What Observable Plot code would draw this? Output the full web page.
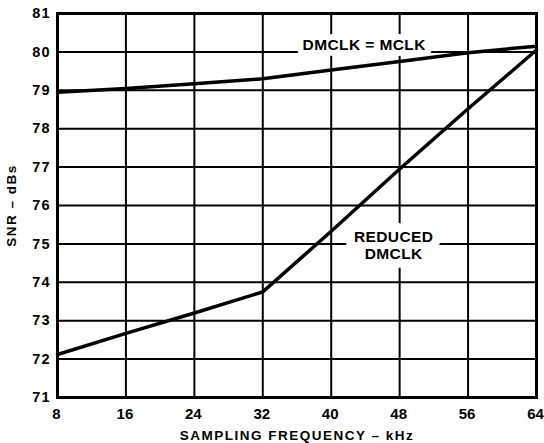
<!DOCTYPE html>
<html><head><meta charset="utf-8">
<script src="https://cdn.jsdelivr.net/npm/d3@7"></script>
<script src="https://cdn.jsdelivr.net/npm/@observablehq/plot@0.6"></script>
<style>
body{margin:0;background:#fff;}
#chart svg{font-family:"Liberation Sans",Arial,sans-serif;font-weight:bold;}
#chart g[aria-label="y-axis tick label"] text{letter-spacing:1px;}
#chart g[aria-label="x-axis label"] text{letter-spacing:1.5px;}
#chart g[aria-label="y-axis label"] text{letter-spacing:1.5px;}
#chart g.anno text{letter-spacing:0.4px;}
</style></head><body><div id="chart"></div>
<script>
const freqs = [8, 16, 24, 32, 40, 48, 56, 64];
const snrEqual = [78.95, 79.05, 79.17, 79.3, 79.53, 79.75, 79.98, 80.15];
const snrReduced = [72.12, 72.67, 73.2, 73.75, 75.33, 76.95, 78.52, 80.05];
const xTicks = [8, 16, 24, 32, 40, 48, 56, 64];
const yTicks = [71, 72, 73, 74, 75, 76, 77, 78, 79, 80, 81];
const labelText = ["DMCLK = MCLK", "REDUCED\nDMCLK"];
const labelX = [43.85, 47.3];
const labelY = [80.2, 74.98];
const labelHalo = [12, 18];

const rows = [];
freqs.forEach((f, i) => {
  rows.push({f, snr: snrEqual[i], s: "equal"});
  rows.push({f, snr: snrReduced[i], s: "reduced"});
});
const labels = labelText.map((t, i) => ({t, x: labelX[i], y: labelY[i], h: labelHalo[i]}));

const chart = Plot.plot({
  width: 544, height: 443,
  marginLeft: 57, marginRight: 8, marginTop: 13, marginBottom: 46,
  style: {fontFamily: '"Liberation Sans", Arial, sans-serif', fontWeight: "bold", fontSize: "14px", color: "black", background: "white"},
  x: {domain: [8, 64]},
  y: {domain: [71, 81]},
  marks: [
    Plot.gridX(xTicks, {stroke: "black", strokeOpacity: 1, strokeWidth: 2}),
    Plot.gridY(yTicks, {stroke: "black", strokeOpacity: 1, strokeWidth: 2}),
    labels.map(l => Plot.text([l], {x: "x", y: "y", text: "t", fill: "white", stroke: "white", strokeWidth: l.h, strokeLinejoin: "round", fontSize: 15.5, fontWeight: "bold", lineHeight: 1.12, textAnchor: "middle", className: "anno"})),
    Plot.text(labels, {x: "x", y: "y", text: "t", fill: "black", fontSize: 15.5, fontWeight: "bold", lineHeight: 1.12, textAnchor: "middle", className: "anno"}),
    Plot.frame({stroke: "black", strokeWidth: 3}),
    Plot.line(rows, {x: "f", y: "snr", z: "s", stroke: "black", strokeWidth: 3.5}),
    Plot.axisX({ticks: xTicks, tickSize: 0, tickPadding: 11, fontSize: 15, dx: -1, label: null}),
    Plot.axisY({ticks: yTicks, tickSize: 0, tickPadding: 7, fontSize: 14.5, label: null}),
    Plot.axisX({ticks: [], label: "SAMPLING FREQUENCY – kHz", labelAnchor: "center", labelOffset: 42, labelArrow: "none", fontSize: 13.5}),
    Plot.axisY({ticks: [], label: "SNR – dBs", labelAnchor: "center", labelOffset: 51, labelArrow: "none", fontSize: 13.5})
  ]
});
document.getElementById("chart").appendChild(chart);
</script></body></html>
